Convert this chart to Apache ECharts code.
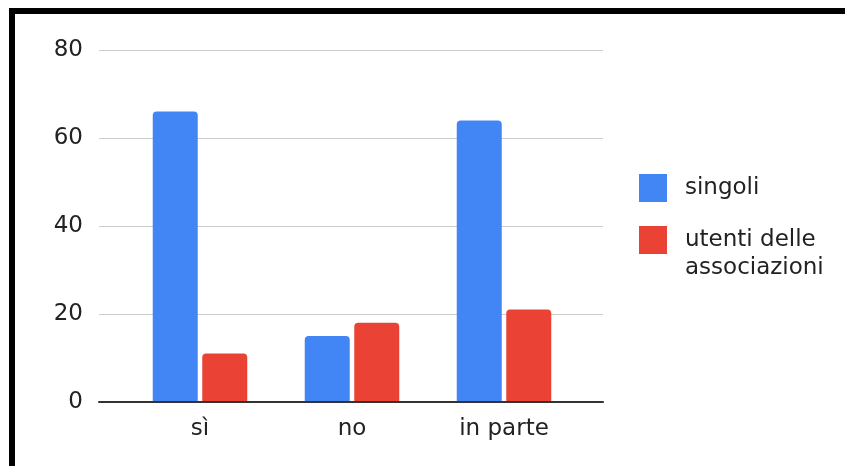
<!DOCTYPE html>
<html>
<head>
<meta charset="utf-8">
<script src="https://cdn.jsdelivr.net/npm/echarts@6/dist/echarts.min.js"></script>
<style>
  html, body { margin: 0; padding: 0; background: #fff; }
  #wrap { position: relative; width: 845px; height: 466px; overflow: hidden; }
  #chart { position: absolute; left: 0; top: 0; width: 845px; height: 466px; }
  #frame {
    position: absolute; left: 9px; top: 8px; width: 836px; height: 458px;
    border-top: 6px solid #000; border-left: 6px solid #000;
    box-sizing: border-box; pointer-events: none;
  }
</style>
</head>
<body>
<div id="wrap">
  <div id="chart"></div>
  <div id="frame"></div>
</div>
<script>
// Risposte per categoria
const categories = ['sì', 'no', 'in parte'];
const singoli = [66, 15, 64];
const utentiAssociazioni = [11, 18, 21];
const seriesNames = ['singoli', 'utenti delle associazioni'];
const yTicks = { min: 0, max: 80, interval: 20 };

const FONT = 'DejaVu Sans';
const TEXT = '#222';
const FS = 23;

// Square swatch in the top half of a taller box, so the swatch lines up
// with the first line of a two-line legend label.
const topSwatch = 'path://M0,0H28V28H0Z M0,56L0.01,56';

const chart = echarts.init(document.getElementById('chart'), null, { renderer: 'canvas' });

chart.setOption({
  animation: false,
  backgroundColor: '#fff',
  textStyle: { fontFamily: FONT },
  grid: [
    // frame with gridlines and baseline
    { left: 99, right: 242, top: 50, bottom: 64 },
    // bar area
    { left: 124, right: 265, top: 50, bottom: 64 }
  ],
  xAxis: [
    {
      gridIndex: 0, type: 'category', data: categories, z: 5,
      axisLine: { show: true, lineStyle: { color: '#333', width: 2 } },
      axisTick: { show: false }, axisLabel: { show: false }, splitLine: { show: false }
    },
    {
      gridIndex: 1, type: 'category', data: categories,
      axisLine: { show: false }, axisTick: { show: false },
      axisLabel: { color: TEXT, fontSize: FS, fontFamily: FONT, margin: 16 }
    }
  ],
  yAxis: [
    {
      gridIndex: 0, type: 'value', min: yTicks.min, max: yTicks.max, interval: yTicks.interval,
      axisLine: { show: false }, axisTick: { show: false },
      axisLabel: { color: TEXT, fontSize: FS, fontFamily: FONT, margin: 16 },
      splitLine: { lineStyle: { color: '#cccccc', width: 1 } }
    },
    {
      gridIndex: 1, type: 'value', min: yTicks.min, max: yTicks.max, interval: yTicks.interval,
      show: false, splitLine: { show: false }
    }
  ],
  legend: [
    {
      data: [seriesNames[0]], orient: 'vertical', left: 639, top: 174, padding: 0,
      itemWidth: 28, itemHeight: 28, icon: 'rect',
      textStyle: { color: TEXT, fontSize: FS, fontFamily: FONT, lineHeight: 28, padding: [0, 0, 0, 13] }
    },
    {
      data: [seriesNames[1]], orient: 'vertical', left: 639, top: 226, padding: 0,
      itemWidth: 28, itemHeight: 56, icon: topSwatch,
      formatter: () => 'utenti delle\nassociazioni',
      textStyle: { color: TEXT, fontSize: FS, fontFamily: FONT, lineHeight: 28, padding: [0, 0, 0, 13] }
    }
  ],
  series: [
    {
      name: seriesNames[0], type: 'bar', xAxisIndex: 1, yAxisIndex: 1,
      data: singoli, barWidth: 45, barGap: '10%',
      itemStyle: { color: '#4285F4', borderRadius: [4, 4, 0, 0] }
    },
    {
      name: seriesNames[1], type: 'bar', xAxisIndex: 1, yAxisIndex: 1,
      data: utentiAssociazioni, barWidth: 45, barGap: '10%',
      itemStyle: { color: '#EA4335', borderRadius: [4, 4, 0, 0] }
    }
  ]
});
</script>
</body>
</html>
